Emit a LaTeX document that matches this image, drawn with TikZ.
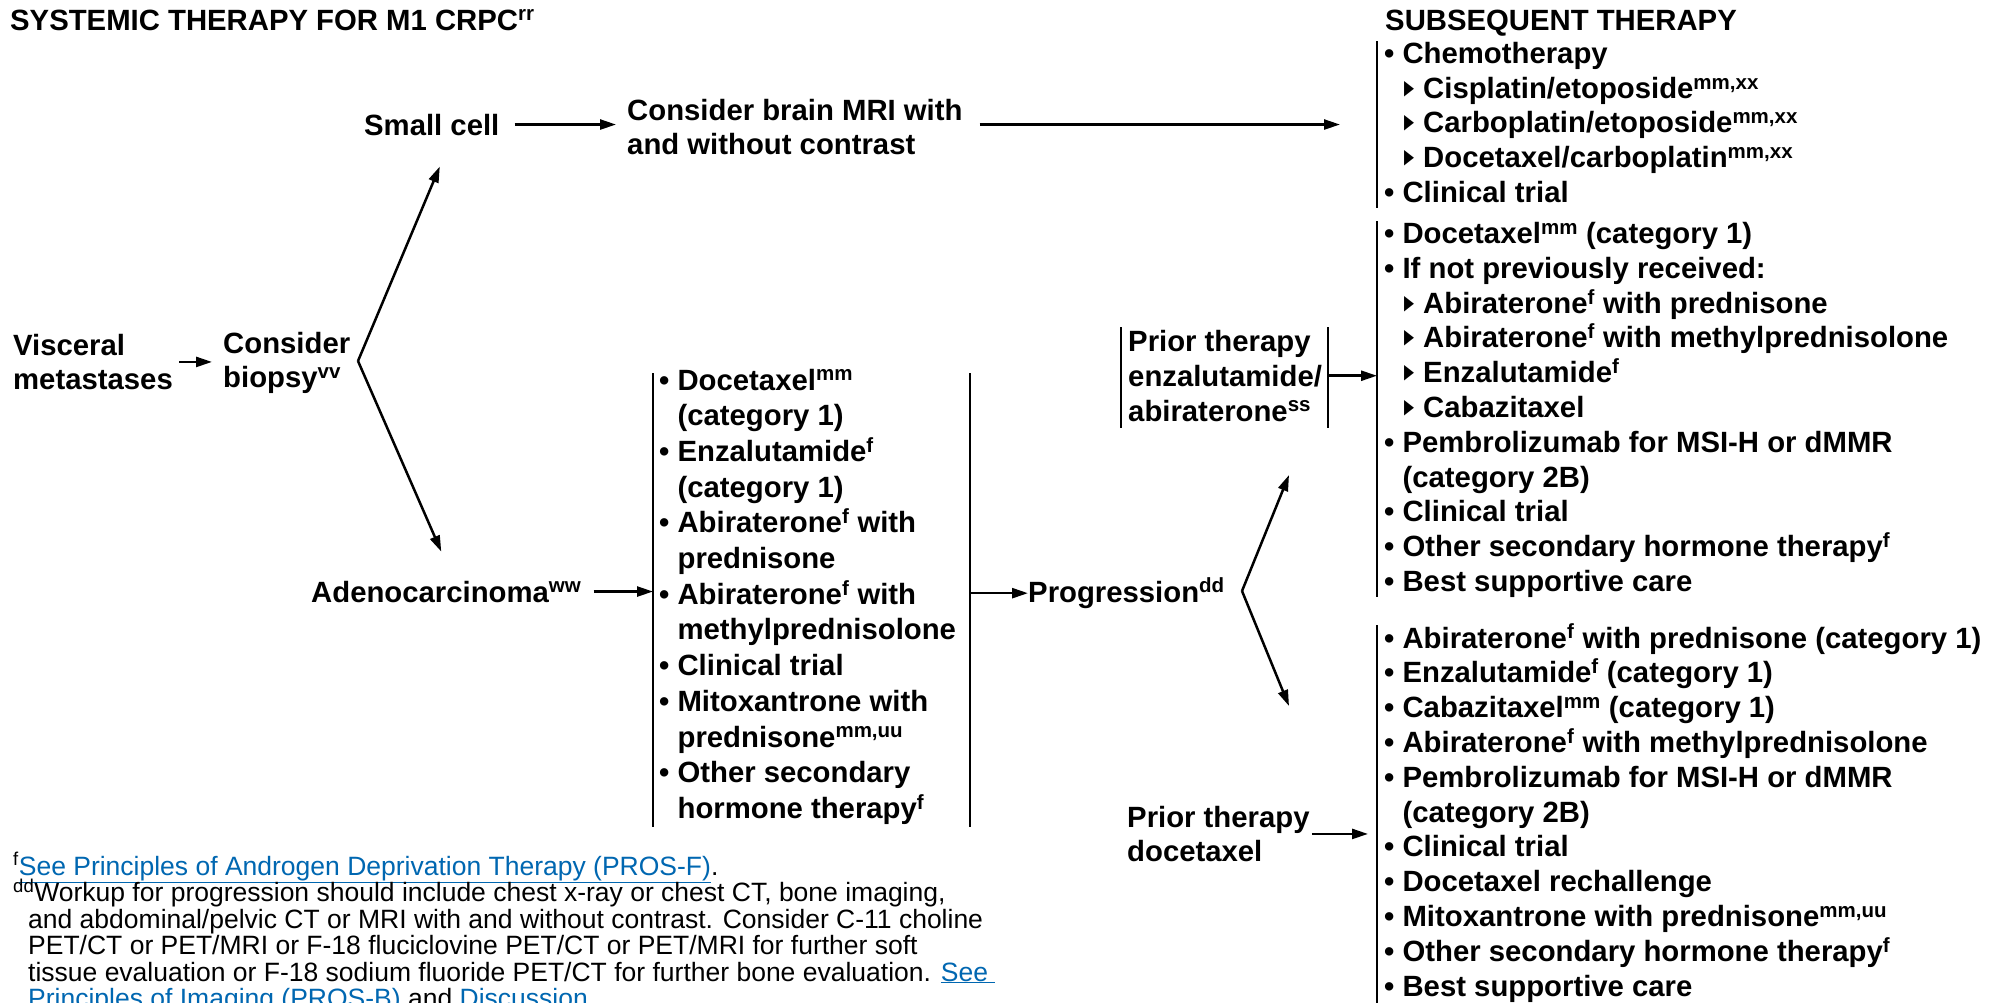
\documentclass[tikz,border=0pt]{standalone}
\usepackage{fontspec}
\usepackage{graphicx}
\setmainfont{Liberation Sans}
\newfontfamily\symfnt{DejaVu Sans}
\usetikzlibrary{arrows.meta}
\definecolor{linkblue}{RGB}{0,103,177}
\newcommand\itm{\textbullet\ }
\newcommand\hng{\phantom{\textbullet\ }}
\newcommand\tri{\makebox[39pt][l]{\hspace*{20pt}\raisebox{4pt}{\resizebox{10pt}{13pt}{\symfnt\char"25B6}}}}
\newcommand\ssc[1]{\textsuperscript{#1}}
\newcommand\lnk[1]{\textcolor{linkblue}{\underline{#1}}}
\newcommand\bigfnt[1]{\bfseries\fontsize{29.3}{#1}\selectfont\lineskiplimit=-50pt\lineskip=0pt\relax}
\newcommand\smlfnt{\fontsize{26.5}{26.5}\selectfont\lineskiplimit=-50pt\lineskip=0pt\relax}

\begin{document}
\begin{tikzpicture}[x=1pt,y=-1pt,
  txt/.style={inner sep=0pt,anchor=base west,align=left,font=\bigfnt{34.8}},
  foot/.style={inner sep=0pt,anchor=base west,align=left,font=\smlfnt},
  arr/.style={line width=2.5pt,-{Triangle[length=16pt,width=10pt]}},
  bar/.style={line width=2pt}]
\useasboundingbox (0,0) rectangle (2001,1002);
\fill[white] (0,0) rectangle (2001,1002);
% (multi-line nodes sit on the baseline of their last line)

% headings
\node[txt] (title) at (10,30) {SYSTEMIC THERAPY FOR M1 CRPC\ssc{rr}};
\node[txt] (subq) at (1385,30) {SUBSEQUENT THERAPY};

% left part
\node[txt] (visc) at (13,389.8) {Visceral\\metastases};
\node[txt] (biopsy) at (223,387.8) {Consider\\biopsy\ssc{vv}};
\node[txt] (small) at (364,135) {Small cell};
\node[txt] (brain) at (627,154.8) {Consider brain MRI with\\and without contrast};
\node[txt] (adeno) at (311,602) {Adenocarcinoma\ssc{ww}};
\node[txt,font=\bigfnt{35.7}] (mid) at (659,818.4) {\itm Docetaxel\ssc{mm}\\
  \hng(category 1)\\
  \itm Enzalutamide\ssc{f}\\
  \hng(category 1)\\
  \itm Abiraterone\ssc{f} with\\
  \hng prednisone\\
  \itm Abiraterone\ssc{f} with\\
  \hng methylprednisolone\\
  \itm Clinical trial\\
  \itm Mitoxantrone with\\
  \hng prednisone\ssc{mm,uu}\\
  \itm Other secondary\\
  \hng hormone therapy\ssc{f}};
\node[txt] (prog) at (1028,602) {Progression\ssc{dd}};
\node[txt] (prior1) at (1128,421) {Prior therapy\\enzalutamide/\\abiraterone\ssc{ss}};
\node[txt] (prior2) at (1127,861.8) {Prior therapy\\docetaxel};

% subsequent therapy
\node[txt] (blk1) at (1384,202.5) {\itm Chemotherapy\\
  \tri Cisplatin/etoposide\ssc{mm,xx}\\
  \tri Carboplatin/etoposide\ssc{mm,xx}\\
  \tri Docetaxel/carboplatin\ssc{mm,xx}\\
  \itm Clinical trial};
\node[txt] (blk2) at (1384,591.5) {\itm Docetaxel\ssc{mm} (category 1)\\
  \itm If not previously received:\\
  \tri Abiraterone\ssc{f} with prednisone\\
  \tri Abiraterone\ssc{f} with methylprednisolone\\
  \tri Enzalutamide\ssc{f}\\
  \tri Cabazitaxel\\
  \itm Pembrolizumab for MSI-H or dMMR\\
  \hng(category 2B)\\
  \itm Clinical trial\\
  \itm Other secondary hormone therapy\ssc{f}\\
  \itm Best supportive care};
\node[txt] (blk3) at (1384,996) {\itm Abiraterone\ssc{f} with prednisone (category 1)\\
  \itm Enzalutamide\ssc{f} (category 1)\\
  \itm Cabazitaxel\ssc{mm} (category 1)\\
  \itm Abiraterone\ssc{f} with methylprednisolone\\
  \itm Pembrolizumab for MSI-H or dMMR\\
  \hng(category 2B)\\
  \itm Clinical trial\\
  \itm Docetaxel rechallenge\\
  \itm Mitoxantrone with prednisone\ssc{mm,uu}\\
  \itm Other secondary hormone therapy\ssc{f}\\
  \itm Best supportive care};

% footnotes
\node[foot] (notes) at (13,1007.5) {\ssc{f}\lnk{See Principles of Androgen Deprivation Therapy (PROS-F)}.\\
  \ssc{dd}Workup for progression should include chest x-ray or chest CT, bone imaging,\\
  \hspace*{15pt}and abdominal/pelvic CT or MRI with and without contrast. Consider C-11 choline\\
  \hspace*{15pt}PET/CT or PET/MRI or F-18 fluciclovine PET/CT or PET/MRI for further soft\\
  \hspace*{15pt}tissue evaluation or F-18 sodium fluoride PET/CT for further bone evaluation. \lnk{See\ }\\
  \hspace*{15pt}\lnk{Principles of Imaging (PROS-B)} and \lnk{Discussion}.};

% bracket lines
\coordinate (midL) at (653,373);
\coordinate (midR) at (970,373);
\coordinate (p1L) at (1121,327);
\coordinate (p1R) at (1328,327);
\coordinate (b1) at (1377,41);
\coordinate (b2) at (1377,221);
\coordinate (b3) at (1377,625);
\draw[bar] (midL) -- (653,827) (midR) -- (970,827);
\draw[bar] (p1L) -- (1121,428) (p1R) -- (1328,428);
\draw[bar] (b1) -- (1377,208) (b2) -- (1377,597) (b3) -- (1377,1004);

% connectors
\coordinate (fork1) at (358,361);
\coordinate (fork2) at (1242,591);
\coordinate (tipA) at (1289,475);
\coordinate (tipB) at (1289,706);
\draw[arr,shorten <=6pt,shorten >=11pt] (visc.east) -- (visc.east -| biopsy.west);
\draw[arr] (fork1) -- ([xshift=8pt,yshift=-31pt]small.south);
\draw[arr] (fork1) -- ([xshift=-5pt,yshift=29pt]adeno.north);
\draw[arr,shorten <=15pt,shorten >=11pt] (small.east) -- (small.east -| brain.west);
\draw[arr,shorten <=17pt,shorten >=37pt] (small.east -| brain.east) -- (small.east -| b1);
\draw[arr,shorten <=12pt] (adeno.east) -- (adeno.east -| midL);
\draw[arr] (prog.west -| midR) -- (prog.west);
\draw[arr] (fork2) -- (tipA);
\draw[arr] (fork2) -- (tipB);
\draw[arr] (prior1.east -| p1R) -- (prior1.east -| b2);
\draw[arr,shorten <=2pt,shorten >=9pt] (prior2.east) -- (prior2.east -| b3);
\end{tikzpicture}
\end{document}
